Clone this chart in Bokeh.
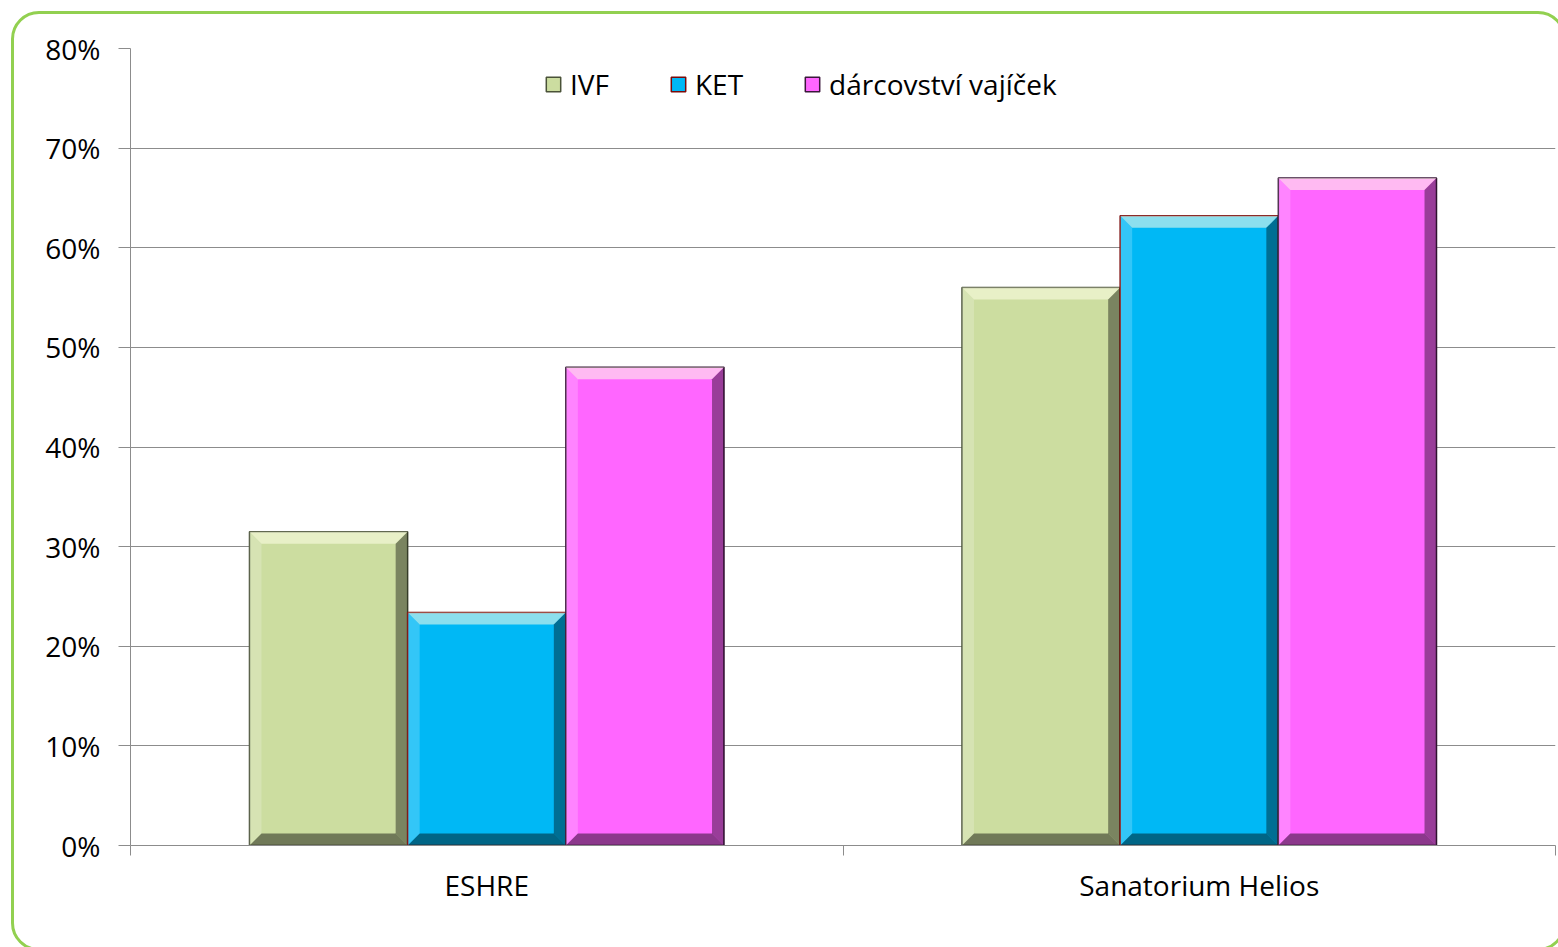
from bokeh.plotting import figure
from bokeh.models import (ColumnDataSource, Range1d, FixedTicker, NumeralTickFormatter,
                          InlineStyleSheet)
from bokeh.embed import file_html
from bokeh.resources import INLINE

categories = ["ESHRE", "Sanatorium Helios"]
series = ["IVF", "KET", "dárcovství vajíček"]
ivf = [0.315, 0.56]
ket = [0.234, 0.632]
darcovstvi = [0.48, 0.67]
y_ticks = [0.0, 0.1, 0.2, 0.3, 0.4, 0.5, 0.6, 0.7, 0.8]

values = [ivf, ket, darcovstvi]
fills = ["#CCDDA0", "#00B8F5", "#FF66FF"]
edges = ["#4A5238", "#7A0A0A", "#3A183A"]

FONT = "Open Sans"
FS = "28px"

p = figure(width=1558, height=947, output_backend="svg", toolbar_location=None,
           x_range=Range1d(0, len(categories)), y_range=Range1d(0, 0.8),
           min_border_left=130, min_border_right=3, min_border_top=48, min_border_bottom=102)
p.background_fill_color = "white"
p.border_fill_color = "white"
p.outline_line_color = None

# grid
p.xgrid.grid_line_color = None
p.ygrid.grid_line_color = "#8C8C8C"
p.ygrid.grid_line_width = 1

# y axis
p.yaxis.ticker = FixedTicker(ticks=y_ticks)
p.yaxis.formatter = NumeralTickFormatter(format="0%")
p.yaxis.axis_line_color = "#8C8C8C"
p.yaxis.major_tick_line_color = "#8C8C8C"
p.yaxis.major_tick_out = 12
p.yaxis.major_tick_in = 0
p.yaxis.minor_tick_line_color = None
p.yaxis.major_label_standoff = 18
p.yaxis.major_label_text_font = FONT
p.yaxis.major_label_text_font_size = FS
p.yaxis.major_label_text_color = "black"

# x axis: labels at category centres, ticks at boundaries
centers = [i + 0.5 for i in range(len(categories))]
bounds = [float(i) for i in range(len(categories) + 1)]
p.xaxis.ticker = FixedTicker(ticks=centers, minor_ticks=bounds)
p.xaxis.major_label_overrides = {c: lab for c, lab in zip(centers, categories)}
p.xaxis.axis_line_color = "#8C8C8C"
p.xaxis.major_tick_line_color = None
p.xaxis.major_tick_out = 0
p.xaxis.minor_tick_line_color = "#8C8C8C"
p.xaxis.minor_tick_out = 10
p.xaxis.minor_tick_in = 0
p.xaxis.major_label_standoff = 10
p.xaxis.major_label_text_font = FONT
p.xaxis.major_label_text_font_size = FS
p.xaxis.major_label_text_color = "black"

bar_w = 0.222
offsets = [-bar_w, 0.0, bar_w]
bx = 12 / 712.5   # bevel in x data units
by = 12 / 996.0   # bevel in y data units

for s, vals, fc, ec, off in zip(series, values, fills, edges, offsets):
    xs = [c + off for c in centers]
    src = ColumnDataSource(dict(x=xs, top=vals))
    p.vbar(x="x", top="top", bottom=0, width=bar_w, source=src,
           fill_color=fc, line_color=ec, line_width=1.5, legend_label=s)
    # bevel facets
    tops_x, tops_y, bot_x, bot_y, lef_x, lef_y, rig_x, rig_y = [], [], [], [], [], [], [], []
    for x, v in zip(xs, vals):
        x0, x1 = x - bar_w / 2, x + bar_w / 2
        tops_x.append([x0, x1, x1 - bx, x0 + bx]); tops_y.append([v, v, v - by, v - by])
        bot_x.append([x0, x1, x1 - bx, x0 + bx]); bot_y.append([0, 0, by, by])
        lef_x.append([x0, x0, x0 + bx, x0 + bx]); lef_y.append([0, v, v - by, by])
        rig_x.append([x1, x1, x1 - bx, x1 - bx]); rig_y.append([0, v, v - by, by])
    p.patches(tops_x, tops_y, fill_color="#FFFFE8", fill_alpha=0.55, line_color=None)
    p.patches(lef_x, lef_y, fill_color="white", fill_alpha=0.2, line_color=None)
    p.patches(rig_x, rig_y, fill_color="black", fill_alpha=0.4, line_color=None)
    p.patches(bot_x, bot_y, fill_color="black", fill_alpha=0.45, line_color=None)

# legend
lg = p.legend[0]
lg.orientation = "horizontal"
lg.location = (414, 742)
lg.border_line_color = None
lg.background_fill_alpha = 0
lg.label_text_font = FONT
lg.label_text_font_size = FS
lg.label_text_color = "black"
lg.glyph_width = 18
lg.glyph_height = 18
lg.label_standoff = 8
lg.spacing = 60
lg.padding = 4
lg.margin = 0

# rounded green frame around the chart (partly running past the right/bottom edges)
p.stylesheets = [InlineStyleSheet(css=(
    ":host{overflow:hidden;}"
    ":host::after{content:'';position:absolute;left:11px;top:11px;right:-8px;bottom:-4px;"
    "border:3px solid #92D050;border-radius:28px;pointer-events:none;"
    "box-sizing:border-box;z-index:10;}"))]

open("out.html", "w").write(file_html(p, INLINE))
